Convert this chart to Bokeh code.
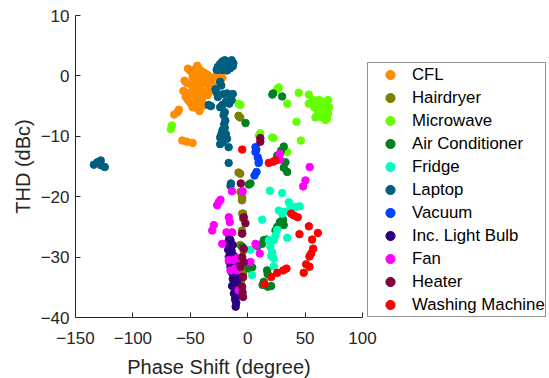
from bokeh.plotting import figure
from bokeh.models import Range1d, Legend, LegendItem, FixedTicker
from bokeh.embed import file_html
from bokeh.resources import INLINE

# Phase shift (degree) and THD (dBc) measurements per appliance
cfl_x = [-44, -52, -50, -47, -45, -43, -41, -39, -37, -35, -33, -31, -29, -27, -24, -22,
         -48, -46, -44, -42, -40, -38, -36, -34, -32, -30,
         -49, -47, -45, -43, -41, -39, -37, -35, -33,
         -55, -53, -51, -56, -54, -50, -46, -44, -42, -40, -38,
         -52, -50, -48, -44, -42, -40, -45, -43,
         -64, -61, -60, -57, -53, -48]
cfl_y = [1.7, 1.2, 0.8, 1.0, 0.5, 1.3, 0.9, 0.6, 0.4, 0.2, -0.2, -0.5, -0.2, 0.1, 0.3, -0.3,
         -0.2, -0.5, -0.8, -0.3, -1.0, -0.7, -1.2, -1.5, -1.0, -1.6,
         -1.5, -2.0, -1.8, -2.4, -2.1, -2.6, -2.9, -3.2, -2.5,
         -0.8, -1.2, -2.8, -2.5, -3.5, -3.0, -3.3, -4.0, -3.6, -4.3, -4.9,
         -4.0, -4.5, -5.2, -5.4, -5.8, -3.9, -4.7, -5.1,
         -6.4, -6.0, -5.6, -10.7, -10.9, -11.1]

hairdryer_x = [-8, -6.5, -7.5, -8, -6.5, -6.3, -4.8, -5, -5, -4, -4.8, -4, -5, -4.8, -6.5, -3.6,
               -6.3, -6, -3.6, -4, -4, -5.5]
hairdryer_y = [-6.6, -6.9, -6.7, -16.0, -16.2, -19.2, -20.3, -20.0, -20.6, -22.8, -22.8, -23.6, -25.6,
               -26.1, -28.0, -28.9, -30.5, -30.5, -31.6, -32.2, -32.7, -33.8]

microwave_x = [-67, -66, -8, -6.3, 9.7, 11, 21.3, 22.5, 34.4, 46.3, 25.7, 27, 34.4, 44.5, 53.2,
               57, 53.2, 42.5,
               60, 62, 64, 66, 68, 70, 71, 69, 67, 65, 63, 61, 64, 66, 70, 58, 59, 67.8, 69, 62]
microwave_y = [-8.8, -8.2, -4.6, -4.8, -9.9, -9.5, -10.2, -10.3, -12.6, -10.7, -2.2, -1.9, -4.6, -2.8,
               -3.1, -4.0, -4.6, -7.6,
               -4.5, -5.0, -4.2, -4.8, -4.4, -4.0, -5.2, -5.8, -5.5, -6.0, -5.6, -6.2, -6.8, -6.5,
               -6.2, -5.2, -6.9, -7.3, -7.1, -4.0]

ac_x = [-1.9, 1, 22.1, 21.5, 30, 31.4, 29.1, 25.7, 32.9, 31.4, 34.4, 2.4,
        30.8, 28, 31.4, 25.7, 24.2, 16.4, 12.6, 14, 8.4,
        16.9, 17.4, 14, 20.4, 17.4, 13, 3.9, 2.7, 1, -4.8]
ac_y = [-7.8, -18.0, -2.9, -3.1, -3.4, -11.7, -12.4, -13.2, -14.3, -15.2, -15.9, -17.8,
        -23.8, -24.2, -24.7, -25.0, -25.6, -27.1, -27.8, -27.2, -28.2,
        -32.2, -32.8, -34.1, -34.8, -34.9, -34.6, -31.7, -31.6, -31.9, -28.3]

fridge_x = [19.3, 30, 35.8, 37.3, 41.6, 45.3, 27.1, 30, 32, 12.6, 34.4, 24.2, 22.7, 18.4,
            19.8, 21.3, 22.7, 22.7, 2.4, 3.9, 25.7, -13.5, 20.5]
fridge_y = [-19.0, -19.4, -20.9, -21.6, -21.7, -21.6, -22.3, -22.8, -22.5, -23.8, -26.8, -26.4,
            -27.2, -27.2, -28.3, -29.2, -30.2, -31.5, -28.8, -33.0, -25.5, -34.6, -29.8]

laptop_x = [-26, -24, -22, -20, -18, -16, -14, -12.5, -25, -23, -21, -19, -17, -15, -13, -22, -18,
            -16, -27,
            -24, -23, -28, -27, -26, -21, -18, -15, -13, -14, -16, -19, -22, -34, -32, -24,
            -20, -21, -19.5, -20.5, -20, -22, -23, -24, -21, -18, -19, -24, -22, -16.6, -16.6,
            -14.6, -15,
            -134, -131, -128, -127.7, -124.5]
laptop_y = [1.5, 2.0, 2.4, 2.6, 2.4, 2.2, 2.6, 2.1, 1.0, 1.4, 1.8, 1.4, 1.6, 1.3, 1.6, 1.0, 0.9,
            1.8, 1.0,
            -1.0, -1.6, -2.2, -2.8, -3.5, -3.0, -2.9, -3.3, -3.0, -4.0, -4.6, -4.3, -4.8, -4.8, -5.0,
            -5.2, -6.0, -6.5, -7.4, -8.0, -8.6, -9.0, -9.7, -10.2, -10.7, -10.4, -9.6, -11.3, -11.0,
            -11.8, -14.4, -17.8, -18.2,
            -14.7, -14.3, -14.0, -14.8, -15.1]

vacuum_x = [6.8, 6.8, 8.8, 9.7, 9.5, 7.7, 5.9, 7.5]
vacuum_y = [-11.8, -12.6, -13.5, -14.1, -14.4, -15.9, -16.5, -12.2]

bulb_x = [-16, -17, -15.5, -17, -15, -16.5, -14, -12, -16, -13, -11, -15, -12.5, -10, -14,
          -11.5, -9.5, -13, -10.5, -12, -9, -11, -10, -12, -9.5, -11, -10, -10.5, -14, -13,
          -15, -12, -13.5, -8.5, -11]
bulb_y = [-26.8, -27.5, -28.2, -28.8, -29.3, -30.0, -30.2, -29.8, -30.8, -31.0, -30.5, -31.6,
          -32.0, -31.5, -32.5, -33.0, -32.8, -33.6, -34.0, -34.6, -34.3, -35.2, -35.8, -36.0,
          -36.5, -37.0, -37.6, -38.2, -29.0, -28.0, -27.2, -31.0, -34.8, -33.5, -36.3]

fan_x = [-4.4, -13.7, -23.7, -25.2, -26.6, -16.5, -15.6, -29.5, -30.9, -18.5, -13.5, -22.2,
         -9.2, -12.4, -16.5, -15, -9.2, -7.8, -11, 6.8, 7.3, 10.5, 2.4,
         28, 28, 54, 50.3, 48.3]
fan_y = [-19.1, -19.1, -20.5, -20.9, -21.4, -23.4, -24.2, -24.7, -25.6, -25.9, -25.9, -27.8,
         -30.2, -30.5, -30.5, -32.2, -32.2, -35.5, -31.9, -27.8, -28.0, -29.4, -30.8,
         -12.9, -13.9, -15.1, -17.3, -18.3]

heater_x = [11, 11, -6, -3.4, -2, -4.8, -3.4, -4.8, -3.4, -6.3, -4, -4.8, -4, -4.5]
heater_y = [-10.3, -10.9, -17.8, -23.4, -24.4, -26.1, -28.6, -30.0, -30.8, -31.6, -33.3, -34.9,
            -36.6, -35.8]

washer_x = [-4.8, 18.4, 22.2, 24.2, 37.9, 40.2, 43.6, 53.3, 61.1, 45.1, 56.1, 57, 55.3, 53.8,
            50.9, 53.8, 48.8, 33.8, 30.9, 25.7, 20.4, 14.6]
washer_y = [-12.2, -14.4, -14.2, -14.0, -22.8, -23.1, -23.4, -24.9, -26.0, -26.2, -27.1, -28.6,
            -29.4, -29.9, -31.2, -31.6, -32.6, -31.9, -32.2, -32.6, -33.3, -34.5]

series = [
    ("CFL", cfl_x, cfl_y, "#FF8C00"),
    ("Hairdryer", hairdryer_x, hairdryer_y, "#808000"),
    ("Microwave", microwave_x, microwave_y, "#66FF00"),
    ("Air Conditioner", ac_x, ac_y, "#008020"),
    ("Fridge", fridge_x, fridge_y, "#00FFBF"),
    ("Laptop", laptop_x, laptop_y, "#005F80"),
    ("Vacuum", vacuum_x, vacuum_y, "#0040FF"),
    ("Inc. Light Bulb", bulb_x, bulb_y, "#2D0080"),
    ("Fan", fan_x, fan_y, "#FF00FF"),
    ("Heater", heater_x, heater_y, "#800040"),
    ("Washing Machine", washer_x, washer_y, "#FF0000"),
]

x_ticks = [-150, -100, -50, 0, 50, 100]
y_ticks = [-40, -30, -20, -10, 0, 10]

FONT = "Liberation Sans"
INK = "#262626"

p = figure(frame_width=287, frame_height=302, output_backend="svg", toolbar_location=None,
           x_range=Range1d(-150, 100), y_range=Range1d(-40, 10),
           min_border_left=75, min_border_top=15, min_border_bottom=61, min_border_right=4)
p.outline_line_color = None
p.grid.visible = False
p.background_fill_color = "white"
p.border_fill_color = "white"

items = []
for name, xs, ys, color in series:
    r = p.scatter(xs, ys, size=7.5, marker="circle", fill_color=color, line_color=color)
    items.append(LegendItem(label=name, renderers=[r]))

for ax, ticks in ((p.xaxis[0], x_ticks), (p.yaxis[0], y_ticks)):
    ax.ticker = FixedTicker(ticks=ticks)
    ax.minor_tick_line_color = None
    ax.major_tick_in = 5
    ax.major_tick_out = 0
    ax.axis_line_color = INK
    ax.major_tick_line_color = INK
    ax.major_label_text_font = FONT
    ax.major_label_text_font_size = "17px"
    ax.major_label_text_color = INK
    ax.axis_label_text_font = FONT
    ax.axis_label_text_font_size = "20px"
    ax.axis_label_text_font_style = "normal"
    ax.axis_label_text_color = INK

p.xaxis.axis_label = "Phase Shift (degree)"
p.yaxis.axis_label = "THD (dBc)"
p.xaxis.major_label_standoff = 14
p.xaxis.axis_label_standoff = 9
p.yaxis.major_label_standoff = 6
p.yaxis.axis_label_standoff = 4

legend = Legend(items=items, location=(5, 0), margin=0)
legend.label_text_font = FONT
legend.label_text_font_size = "16.8px"
legend.label_text_color = "black"
legend.border_line_color = INK
legend.border_line_width = 1
legend.padding = 0
legend.spacing = 0
legend.glyph_width = 44
legend.glyph_height = 23
legend.label_height = 23
legend.label_standoff = 0
legend.background_fill_alpha = 1
p.add_layout(legend, "right")

open("out.html", "w").write(file_html(p, INLINE))
